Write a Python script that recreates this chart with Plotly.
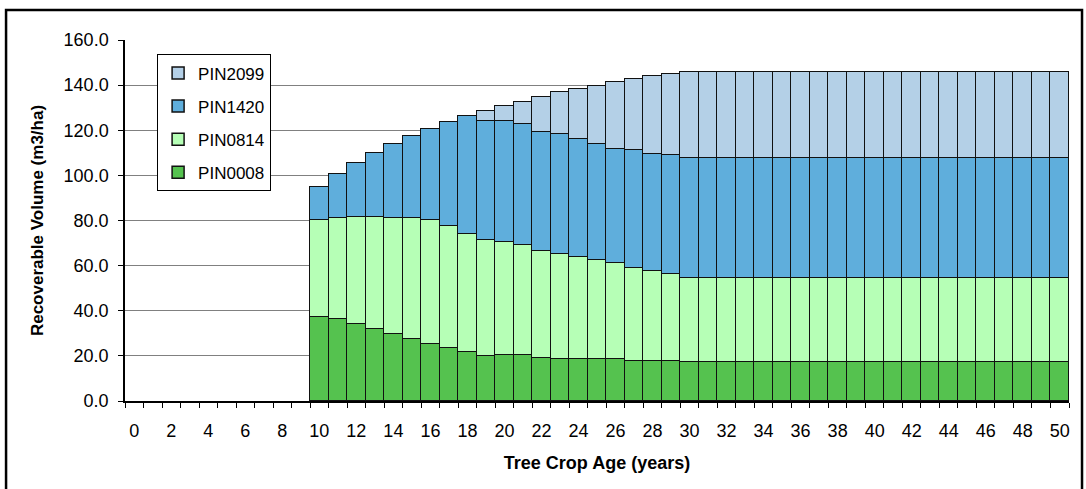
import plotly.graph_objects as go

ages = list(range(0, 51))
empty = [None] * 10

pin0008 = empty + [37.4, 36.2, 34.0, 32.1, 29.7, 27.6, 25.4, 23.5, 21.9, 19.9,
                   20.5, 20.5, 19.2, 18.6, 18.6, 18.6, 18.6, 17.9, 17.9, 17.9] + [17.3] * 21
pin0814 = empty + [42.8, 44.9, 47.7, 49.6, 51.4, 53.4, 55.0, 54.2, 52.3, 51.5,
                   50.1, 48.8, 47.3, 46.6, 45.4, 43.9, 42.6, 40.9, 39.7, 38.3] + [37.4] * 21
pin1420 = empty + [14.8, 19.5, 23.8, 28.1, 32.7, 36.3, 40.3, 45.8, 52.3, 52.9,
                   53.5, 53.6, 52.9, 53.0, 52.1, 51.4, 50.7, 52.3, 52.0, 52.7] + [53.0] * 21
pin2099 = empty + [0, 0, 0, 0, 0, 0, 0, 0, 0, 4.1,
                   6.5, 9.8, 15.4, 18.8, 22.2, 25.9, 29.3, 31.5, 34.5, 35.9] + [38.3] * 21

series = [
    ("PIN0008", pin0008, "#55C24F"),
    ("PIN0814", pin0814, "#B6FFB6"),
    ("PIN1420", pin1420, "#5FAEDC"),
    ("PIN2099", pin2099, "#B4D0E7"),
]

x_ticks = list(range(0, 51, 2))
y_ticks = list(range(0, 161, 20))

fig = go.Figure()
for i, (name, vals, col) in enumerate(series):
    fig.add_trace(go.Bar(
        x=ages, y=vals, name=name, legendgroup=name, legendrank=100 - i,
        marker=dict(color=col, line=dict(color="#111111", width=1.5)),
    ))

fig.update_layout(
    barmode="stack", bargap=0,
    width=1086, height=489,
    margin=dict(l=125, r=17, t=40, b=88),
    paper_bgcolor="white", plot_bgcolor="white",
    font=dict(family="Arial, Liberation Sans, sans-serif", color="black"),
    showlegend=True,
    legend=dict(
        x=0.034, y=0.96, xanchor="left", yanchor="top",
        traceorder="grouped", tracegroupgap=8,
        bgcolor="white", bordercolor="black", borderwidth=1,
        font=dict(size=17, family="Arial, Liberation Sans, sans-serif"),
    ),
    xaxis=dict(
        range=[-0.5, 50.5], tickmode="array", tickvals=x_ticks,
        ticktext=[str(v) for v in x_ticks],
        ticks="", ticklabelstandoff=13,
        showline=True, linecolor="black", linewidth=1.5,
        showgrid=False, zeroline=False,
        tickfont=dict(size=18),
        minor=dict(tickmode="linear", tick0=-0.5, dtick=1, ticks="outside",
                   ticklen=5, tickcolor="black", tickwidth=1, showgrid=False),
        title=dict(text="<b>Tree Crop Age (years)</b>", font=dict(size=18), standoff=16),
    ),
    yaxis=dict(
        range=[0, 160], tickmode="array", tickvals=y_ticks,
        ticktext=[f"{v:.1f}" for v in y_ticks],
        ticks="outside", ticklen=5, tickcolor="black",
        showline=True, linecolor="black", linewidth=1.5,
        showgrid=True, gridcolor="#808080", gridwidth=1, zeroline=False,
        tickfont=dict(size=18), ticklabelstandoff=6,
        title=dict(text="<b>Recoverable Volume (m3/ha)</b>", font=dict(size=17), standoff=16),
    ),
)

# outer chart-area border
fig.add_shape(type="rect", xref="paper", yref="paper",
              x0=-0.126, x1=1.0138, y0=-0.27, y1=1.0831,
              line=dict(color="black", width=2.5), fillcolor="rgba(0,0,0,0)", layer="below")

fig.write_html("out.html", post_script="document.body.style.margin='0';",
               config={"displayModeBar": False})
